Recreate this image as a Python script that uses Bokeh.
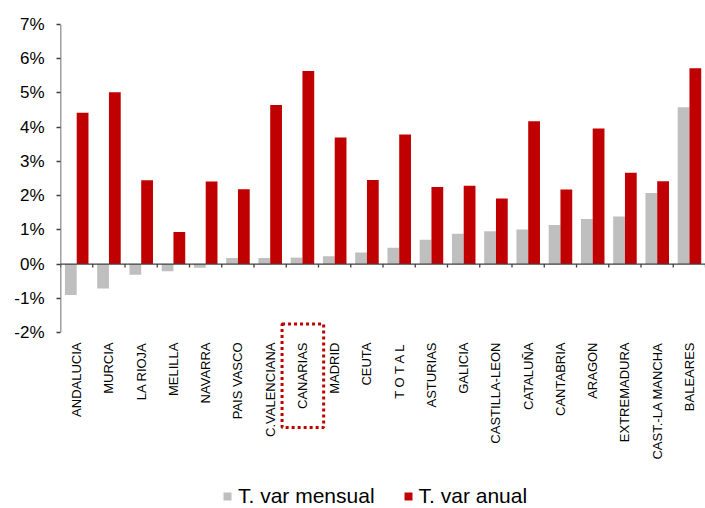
from math import pi
from bokeh.plotting import figure
from bokeh.models import (FactorRange, Range1d, BoxAnnotation,
                          FixedTicker, PrintfTickFormatter, ColumnDataSource)
from bokeh.transform import dodge
from bokeh.embed import file_html
from bokeh.resources import INLINE

regions = ["ANDALUCIA", "MURCIA", "LA RIOJA", "MELILLA", "NAVARRA", "PAIS VASCO",
           "C.VALENCIANA", "CANARIAS", "MADRID", "CEUTA", "T O T A L", "ASTURIAS",
           "GALICIA", "CASTILLA-LEON", "CATALUÑA", "CANTABRIA", "ARAGON",
           "EXTREMADURA", "CAST.-LA MANCHA", "BALEARES"]
mensual = [-0.90, -0.71, -0.31, -0.21, -0.11, 0.18, 0.18, 0.19, 0.23, 0.34,
           0.48, 0.71, 0.89, 0.96, 1.01, 1.14, 1.32, 1.39, 2.08, 4.58]
anual = [4.42, 5.02, 2.45, 0.94, 2.41, 2.19, 4.65, 5.64, 3.70, 2.46,
         3.79, 2.25, 2.29, 1.92, 4.17, 2.18, 3.96, 2.67, 2.42, 5.72]
y_ticks = [-2, -1, 0, 1, 2, 3, 4, 5, 6, 7]
highlight = "CANARIAS"

RED = "#C00000"
GREY = "#BFBFBF"
AXIS = "#404040"
FONT = "Liberation Sans"

src = ColumnDataSource(dict(region=regions, mensual=mensual, anual=anual))

# frame spans the whole lower area so that legend and highlight box can be drawn there
p = figure(x_range=FactorRange(factors=regions, range_padding=0),
           y_range=Range1d(-7.14, 7), width=705, height=508,
           output_backend="svg", toolbar_location=None,
           min_border_left=60, min_border_right=0, min_border_top=24,
           min_border_bottom=0)
p.outline_line_color = None
p.grid.visible = False
p.background_fill_color = "white"

p.vbar(x=dodge("region", -0.18, range=p.x_range), top="mensual", width=0.365,
       source=src, fill_color=GREY, line_color=None, legend_label="T. var mensual")
p.vbar(x=dodge("region", 0.185, range=p.x_range), top="anual", width=0.365,
       source=src, fill_color=RED, line_color=None, legend_label="T. var anual")

# zero line with category tick marks
n = len(regions)
p.segment(x0=[0], y0=[0], x1=[n], y1=[0], line_color=AXIS, line_width=1.3)
bounds = list(range(n + 1))
p.segment(x0=bounds, y0=[0] * len(bounds), x1=bounds, y1=[-0.1] * len(bounds),
          line_color=AXIS, line_width=1.3)

# y axis line only over the tick span
p.segment(x0=[0], y0=[min(y_ticks)], x1=[0], y1=[max(y_ticks)],
          line_color=AXIS, line_width=1.5)
p.yaxis.ticker = FixedTicker(ticks=y_ticks)
p.yaxis.formatter = PrintfTickFormatter(format="%d%%")
p.yaxis.axis_line_color = None
p.yaxis.major_tick_line_color = AXIS
p.yaxis.major_tick_line_width = 1.3
p.yaxis.major_tick_in = 0
p.yaxis.major_tick_out = 4
p.yaxis.minor_tick_line_color = None
p.yaxis.major_label_text_font = FONT
p.yaxis.major_label_text_font_size = "17px"
p.yaxis.major_label_text_color = "#000000"
p.yaxis.major_label_standoff = 12

# x axis labels drawn up under the -2% level
p.xaxis.axis_line_color = None
p.xaxis.major_tick_line_color = None
p.xaxis.major_tick_in = 0
p.xaxis.major_tick_out = 0
p.xaxis.minor_tick_line_color = None
p.xaxis.major_label_orientation = pi / 2
p.xaxis.major_label_text_font = FONT
p.xaxis.major_label_text_font_size = "13px"
p.xaxis.major_label_text_color = "#000000"
p.xaxis.major_label_standoff = -166

# dotted highlight box
i = regions.index(highlight)
p.add_layout(BoxAnnotation(left=i - 0.13, right=i + 1.16, top=-1.75, bottom=-4.77,
                           fill_alpha=0, line_color=RED, line_alpha=1.0,
                           line_width=3, line_dash="3 3"))

leg = p.legend[0]
leg.location = (162, 0)
leg.orientation = "horizontal"
leg.border_line_color = None
leg.background_fill_alpha = 0
leg.padding = 0
leg.margin = 0
leg.spacing = 28
leg.glyph_width = 10
leg.glyph_height = 10
leg.label_height = 20
leg.label_standoff = 6
leg.label_text_font = FONT
leg.label_text_font_size = "21px"
leg.label_text_color = "#000000"

open("out.html", "w").write(file_html(p, INLINE))
